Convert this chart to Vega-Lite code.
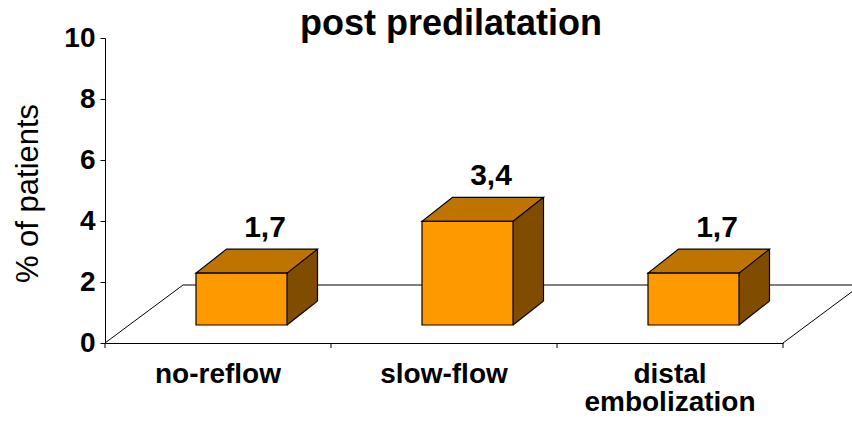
{
  "$schema": "https://vega.github.io/schema/vega-lite/v6.json",
  "width": 678,
  "height": 305,
  "autosize": {"type": "none"},
  "padding": {"left": 105, "top": 38, "right": 69, "bottom": 78},
  "background": "white",
  "config": {
    "view": {"stroke": null},
    "font": "Liberation Sans",
    "locale": {
      "number": {"decimal": ",", "thousands": ".", "grouping": [3], "currency": ["", " €"]}
    }
  },
  "title": {
    "text": "post predilatation",
    "font": "Liberation Sans",
    "fontSize": 36,
    "fontWeight": "bold",
    "color": "black",
    "anchor": "middle",
    "frame": "group",
    "baseline": "alphabetic",
    "offset": 0,
    "dx": 7,
    "dy": 47
  },
  "datasets": {
    "bars": [
      {"category": "no-reflow", "value": 1.7},
      {"category": "slow-flow", "value": 3.4},
      {"category": "distal embolization", "value": 1.7}
    ]
  },
  "data": {"name": "bars"},
  "layer": [
    {
      "description": "floor: back edge; this layer also carries both axes",
      "data": {"values": [{}]},
      "mark": {"type": "rule", "color": "black", "strokeWidth": 1, "xOffset": 78, "x2Offset": 78, "yOffset": -58},
      "encoding": {
        "x": {
          "datum": "no-reflow",
          "type": "nominal",
          "bandPosition": 0,
          "scale": {"domain": ["no-reflow", "slow-flow", "distal embolization"], "paddingInner": 0, "paddingOuter": 0},
          "axis": {
            "title": null,
            "ticks": false,
            "domainColor": "black",
            "domainWidth": 1,
            "labelAngle": 0,
            "labelFont": "Liberation Sans",
            "labelFontSize": 28,
            "labelFontWeight": "bold",
            "labelColor": "black",
            "labelPadding": 17,
            "labelLineHeight": 28,
            "labelBaseline": "top",
            "labelExpr": "datum.label === 'distal embolization' ? ['distal', 'embolization'] : datum.label"
          }
        },
        "x2": {"datum": "distal embolization", "bandPosition": 1},
        "y": {
          "datum": 0,
          "type": "quantitative",
          "scale": {"domain": [0, 10], "nice": false},
          "axis": {
            "title": "% of patients",
            "values": [0, 2, 4, 6, 8, 10],
            "grid": false,
            "domainColor": "black",
            "domainWidth": 1,
            "tickColor": "black",
            "tickSize": 5,
            "tickWidth": 1,
            "labelFont": "Liberation Sans",
            "labelFontSize": 28,
            "labelFontWeight": "bold",
            "labelColor": "black",
            "labelPadding": 5,
            "titleFont": "Liberation Sans",
            "titleFontSize": 31,
            "titleFontWeight": "normal",
            "titleColor": "black",
            "titleAngle": -90,
            "titleAlign": "center",
            "titleBaseline": "alphabetic",
            "titleX": -68,
            "titleY": 155
          }
        }
      }
    },
    {
      "description": "floor: left edge",
      "data": {"values": [{}]},
      "mark": {"type": "rule", "color": "black", "strokeWidth": 1, "x2Offset": 78, "y2Offset": -58},
      "encoding": {
        "x": {"datum": "no-reflow", "type": "nominal", "bandPosition": 0},
        "x2": {"datum": "no-reflow", "bandPosition": 0},
        "y": {"datum": 0, "type": "quantitative"},
        "y2": {"datum": 0}
      }
    },
    {
      "description": "floor: right edge",
      "data": {"values": [{}]},
      "mark": {"type": "rule", "color": "black", "strokeWidth": 1, "x2Offset": 78, "y2Offset": -58},
      "encoding": {
        "x": {"datum": "distal embolization", "type": "nominal", "bandPosition": 1},
        "x2": {"datum": "distal embolization", "bandPosition": 1},
        "y": {"datum": 0, "type": "quantitative"},
        "y2": {"datum": 0}
      }
    },
    {
      "description": "category boundary ticks below the floor",
      "mark": {"type": "rule", "color": "black", "strokeWidth": 1, "y2Offset": 5},
      "encoding": {
        "x": {"field": "category", "type": "nominal", "bandPosition": 0},
        "y": {"datum": 0, "type": "quantitative"},
        "y2": {"datum": 0}
      }
    },
    {
      "description": "closing tick at the right end of the floor",
      "data": {"values": [{}]},
      "mark": {"type": "rule", "color": "black", "strokeWidth": 1, "y2Offset": 5},
      "encoding": {
        "x": {"datum": "distal embolization", "type": "nominal", "bandPosition": 1},
        "y": {"datum": 0, "type": "quantitative"},
        "y2": {"datum": 0}
      }
    },
    {
      "description": "side face backing (dark), trimmed by the pieces drawn over it",
      "mark": {"type": "bar", "color": "#7F4C00", "width": 30.5, "xOffset": 84.25, "yOffset": -42, "y2Offset": -18},
      "encoding": {
        "x": {"field": "category", "type": "nominal"},
        "y": {"field": "value", "type": "quantitative"},
        "y2": {"datum": 0}
      }
    },
    {
      "description": "blank corner under the slanted bottom edge of the side face",
      "mark": {"type": "point", "filled": true, "opacity": 1, "fill": "white", "stroke": "white", "strokeWidth": 1, "size": 4, "shape": "M45.5,0.5L76.5,-24.5L76.5,0.5Z", "xOffset": 23.5, "yOffset": -18},
      "encoding": {
        "x": {"field": "category", "type": "nominal"},
        "y": {"datum": 0, "type": "quantitative"}
      }
    },
    {
      "description": "top face",
      "mark": {"type": "point", "filled": true, "opacity": 1, "fill": "#C07400", "stroke": "black", "strokeWidth": 1.2, "strokeJoin": "miter", "size": 4, "shape": "M-45.5,0L45.5,0L76,-24L-15,-24Z", "xOffset": 23.5, "yOffset": -18},
      "encoding": {
        "x": {"field": "category", "type": "nominal"},
        "y": {"field": "value", "type": "quantitative"}
      }
    },
    {
      "description": "front face",
      "mark": {"type": "bar", "color": "#FF9900", "stroke": "black", "strokeWidth": 1.2, "width": 91, "xOffset": 23.5, "yOffset": -18, "y2Offset": -18},
      "encoding": {
        "x": {"field": "category", "type": "nominal"},
        "y": {"field": "value", "type": "quantitative"},
        "y2": {"datum": 0}
      }
    },
    {
      "description": "slanted bottom edge of the side face",
      "mark": {"type": "point", "filled": false, "opacity": 1, "stroke": "black", "strokeWidth": 1.2, "size": 4, "shape": "M45.5,0L76,-24", "xOffset": 23.5, "yOffset": -18},
      "encoding": {
        "x": {"field": "category", "type": "nominal"},
        "y": {"datum": 0, "type": "quantitative"}
      }
    },
    {
      "description": "back vertical edge of the side face",
      "mark": {"type": "rule", "color": "black", "strokeWidth": 1.2, "xOffset": 99.5, "yOffset": -42, "y2Offset": -42},
      "encoding": {
        "x": {"field": "category", "type": "nominal"},
        "y": {"field": "value", "type": "quantitative"},
        "y2": {"datum": 0}
      }
    },
    {
      "description": "value labels",
      "mark": {"type": "text", "font": "Liberation Sans", "fontSize": 30, "fontWeight": "bold", "color": "black", "align": "center", "baseline": "alphabetic", "dx": 47, "dy": -54},
      "encoding": {
        "x": {"field": "category", "type": "nominal"},
        "y": {"field": "value", "type": "quantitative"},
        "text": {"field": "value", "type": "quantitative", "format": ".1f"}
      }
    }
  ]
}
